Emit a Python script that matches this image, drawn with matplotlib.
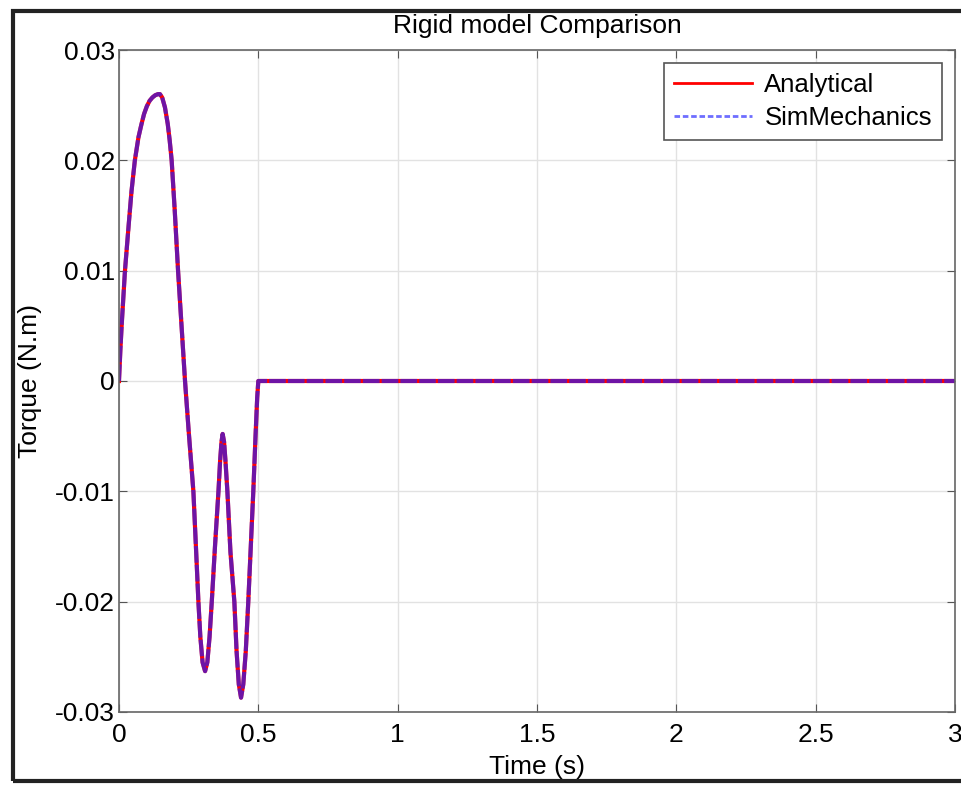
import matplotlib.pyplot as plt
from matplotlib.patches import Rectangle

plt.rcParams['font.family'] = ['Liberation Sans', 'DejaVu Sans']

# Torque vs time (both models overlap)
t = [0, 0.005, 0.01, 0.0215, 0.035, 0.045, 0.057, 0.07, 0.08, 0.09, 0.10, 0.11,
     0.12, 0.13, 0.14, 0.147, 0.155, 0.165, 0.175, 0.182, 0.189, 0.20, 0.212,
     0.225, 0.237, 0.25, 0.267, 0.277, 0.285, 0.292, 0.30, 0.309, 0.317, 0.325,
     0.333, 0.345, 0.357, 0.363, 0.368, 0.372, 0.377, 0.382, 0.389, 0.40, 0.414,
     0.422, 0.43, 0.438, 0.446, 0.455, 0.464, 0.473, 0.482, 0.49, 0.496, 0.5, 3.0]
torque = [0, 0.0028, 0.0052, 0.010, 0.0142, 0.0172, 0.020, 0.0221, 0.0232, 0.0242,
          0.0249, 0.0254, 0.0257, 0.0259, 0.026, 0.026, 0.0257, 0.0248, 0.0233,
          0.0218, 0.020, 0.0155, 0.010, 0.0048, 0.0, -0.0045, -0.010, -0.0155,
          -0.020, -0.0232, -0.0255, -0.0263, -0.0255, -0.0232, -0.020, -0.0148,
          -0.010, -0.0072, -0.0055, -0.0048, -0.0055, -0.0072, -0.010, -0.0155,
          -0.020, -0.0245, -0.0275, -0.0287, -0.0275, -0.0245, -0.020, -0.015,
          -0.010, -0.005, -0.0015, 0.0, 0.0]

xticks = [0, 0.5, 1, 1.5, 2, 2.5, 3]
xtick_labels = ['0', '0.5', '1', '1.5', '2', '2.5', '3']
yticks = [-0.03, -0.02, -0.01, 0, 0.01, 0.02, 0.03]
ytick_labels = ['-0.03', '-0.02', '-0.01', '0', '0.01', '0.02', '0.03']

fig = plt.figure(figsize=(9.61, 7.85), dpi=100)
ax = fig.add_axes([0.1238, 0.093, 0.870, 0.8433])

ax.plot(t, torque, color='red', lw=3, label='Analytical')
ax.plot(t, torque, color='#2020ff', lw=3, ls='--', dashes=(4, 0.5), alpha=0.65,
        label='SimMechanics')

ax.set_xlim(0, 3)
ax.set_ylim(-0.03, 0.03)
ax.set_xticks(xticks)
ax.set_xticklabels(xtick_labels)
ax.set_yticks(yticks)
ax.set_yticklabels(ytick_labels)
ax.tick_params(direction='in', top=True, right=True, labelsize=19, length=6,
               color='#555555', pad=3)
ax.tick_params(axis='x', pad=8)
ax.grid(True, color='#e2e2e2', lw=1)
for s in ax.spines.values():
    s.set_color('#666666')
    s.set_linewidth(1.2)

ax.set_title('Rigid model Comparison', fontsize=19, pad=12)
ax.set_xlabel('Time (s)', fontsize=19, labelpad=6)
ax.set_ylabel('Torque (N.m)', fontsize=19, labelpad=9)

leg = ax.legend(loc='upper right', fontsize=18.5, fancybox=False, framealpha=1,
                edgecolor='#555555', handlelength=3, borderaxespad=0.5,
                borderpad=0.4, labelspacing=0.35, handletextpad=0.5)
leg.get_frame().set_linewidth(1.2)
lines = leg.get_lines()
lines[0].set_linewidth(2)
lines[1].set_linewidth(2)
lines[1].set_dashes((2, 1))

# outer figure frame, as in the screenshot
fig.patches.append(Rectangle((0.0135, 0.005), 1.0, 0.981, transform=fig.transFigure,
                             fill=False, edgecolor='#222222', lw=3))

fig.savefig('out.png', dpi=100)
